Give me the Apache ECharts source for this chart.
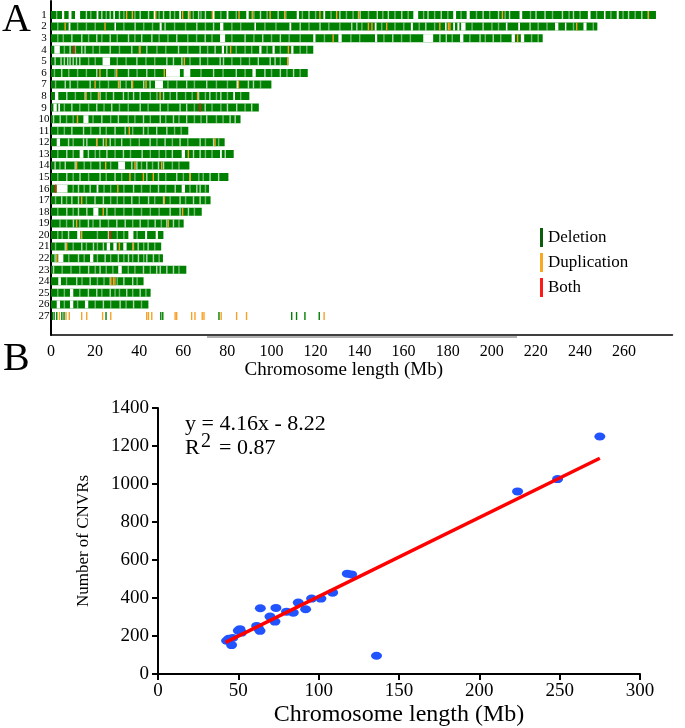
<!DOCTYPE html>
<html><head><meta charset="utf-8">
<script src="https://cdn.jsdelivr.net/npm/echarts@6/dist/echarts.min.js"></script>
<style>html,body{margin:0;padding:0;background:#fff}#c{width:685px;height:728px}</style>
</head><body><div id="c"></div>
<script>
// ---------- Panel A data (Mb) ----------
const chrLabels = ['1','2','3','4','5','6','7','8','9','10','11','12','13','14','15','16','17','18','19','20','21','22','23','24','25','26','27'];
const chrLength = [274.5,247.9,223.1,119,107.7,116.5,100,90,94.3,86,62.3,78.8,82.9,62.8,80.5,71.7,72.4,68.4,60.2,51,50,50.8,61.4,42,45.2,44.2,0];
// gaps inside each chromosome bar: number = thin stripe, [start,end] = white gap
const chrGaps = [
 [[5,6],[8,9.3],[10.9,13.2],[20.7,21.5],16,23,26.8,[28.3,29],31,40.4,44.2,[46.6,47.2],51,54,[58.2,59],62.3,66.9,70,[73.4,74.2],[79.7,80.5],[88.6,89.7],95,103,[111.5,112.5],117,[123.6,124.4],131,140.2,148,153,159.1,[164.4,166.6],171,177,[182.5,183.8],[188.6,190],196,203,208,[212.6,213.8],220,224.1,232,237,[243.6,244.8],[250.9,251.6],[256.7,257.6],262,268],
 [[8,8.8],[28.8,29.5],38.1,[49.3,50.2],51.7,66.1,73.7,[76.7,78.2],[92.3,93],[108.2,109],113,122,136.4,138.7,[146.9,147.7],[163.3,164.2],170,[178.8,179.5],[182.5,183.3],[184.4,185.3],[186.1,188.1],196,[206.4,207.1],[212,212.8],217.3,[228.7,230.2],[233.2,233.8],[241.6,243]],
 [9.4,13.9,20.7,26.8,35.1,41.1,45.7,57,69.9,[76.7,79],88,96,104,[119,120],[130.4,131.9],[147,148],155,[168.9,173.4],176.4,179.3,[185.6,187.1],194.6,200.6,[209,210.5],[213.2,214.7]],
 [[1.5,4],8.6,13.9,15.4,26.8,36.6,43.4,57.8,67.6,74.4,[77.5,78.5],79.7,[94.5,95.5],[100.5,101.5],[109,110]],
 [1.8,4.5,6,7.5,8.6,10,11.5,13,[23.4,26.8],38.9,52.5,55.5,59.3,67.6,76.7,78.2,94,99.4,101.6],
 [4.8,20.7,25.3,35.1,43.4,[52.2,58.5],[60.2,63.2],73.7,84,[91.4,92.9],97,104,110],
 [6.4,8.6,17.7,31.3,36.6,42,44.9,[47.2,50.8],61.5,70.6,[84.2,85],89.5,91.8],
 [[1.8,3.3],7.1,15.4,22.2,28.3,32.8,37.4,40.4,51,57,66.9,72,77,[82.7,83.5]],
 [[1.1,2.6],[3.3,4.1],9.4,20.7,27.5,40.4,49.5,58.5,61.5,69.9,80,84.2,91],
 [1.1,4.1,[14.7,17],23,30.5,41.9,49.5,55.5,61.5,70.6,81.2,83.5],
 [9.4,14.7,22.2,29,33.6,41.9,47.9,52.5],
 [[2.6,4.1],7.9,14.7,16.2,20.7,23.7,26.8,32,44.9,51.7,58.5,67.6,73.7],
 [7.1,[13,14.7],16.9,25.3,32.8,41.3,55,[59.3,60.8],64.6,67.6,[76.7,77.5],79],
 [1.8,6.4,10.9,22.2,[30.5,33.6],36.6,38.9,43.4,48.7,51],
 [7.1,13.1,22.2,29,43.4,48.7,57,63,72.1,76],
 [[2.6,7.5],12.4,17.7,[20.7,21.5],37.4,48.7,56.3,[59.3,60.8],66.1,67.6],
 [4.8,9.4,12.4,19.9,23.7,36.6,44.2,51,58.5,64.6,67.6],
 [7.1,12.4,16.2,[19.2,21.5],25.3,54,58.5,62.3],
 [10.1,16.9,22.2,29.8,33.6,40.4,47.2,52.5,55.5],
 [7.9,[11.9,13.3],26,[35.1,37.4],[42.7,43.6],[47.5,48.5]],
 [6.4,13.9,19.2,23.7,[25.3,26.8],[28.3,29.8],[32.8,34.3],39.5,44],
 [1.8,[3.3,5.6],12.4,[17.7,19.2],24.5,30.5,35.1,39.6,43.4,46.4],
 [1.1,17,22.2,[30.5,32.1],41.9,47.9,49.5,52.5,55.5],
 [[3.3,4.5],11.6,17.7,26.8,33,37],
 [[8.6,10.1],16.9,20.7,26.8,34.3,40.4],
 [[2.6,4.1],[8.6,10.1],[15.4,16.9],23.7,31.3,37.4],
 []
];
// faint (light green) stripes inside each chromosome bar
const chrStripes = [
 [2.5,18,25,33,38,49,56,64.5,68,77,84,92,98,106.5,114,120,127,134,137,144,150.5,156,162,169,174,180,186,193,199,206,217.5,227.5,235,240,247.5,254,259.5,265,271],
 [3,12,16,20,33,42,46,56,61,70,82,86,97,102,117,126,131,141,150,156,160,167,174,191,200,203,221,225,237,246],
 [3,5.5,17,23,30,38,49,53,62,66,73,82,92,100,108,113,124,136,140,151,159,163,182,190,197,204,218,221],
 [6,11,19,22,31,40,48,52,62,71,84,88,91,98,104,113,116],
 [17,20,30,34,43,47,63,71,82,86,90,104],
 [1.5,8,12,16,29,39,47,68,78,88,100,107,113],
 [2,12,22,26,34,53,57,65,75,80,95],
 [11,18,25,35,45,48,54,61,64,70,75,80,86],
 [6,13,17,24,31,35,44,53,65,73,77,88],
 [7,10,19,27,35,38,45,52,58,65,68,75,78],
 [3,6,18,25,37,44,56,59],
 [10,29,36,40,48,55,62,70,76],
 [3,10,20,22,29,36,45,49,52,70,73],
 [4,15,18,27,41,46,55,58],
 [3,10,17,25,32,38,52,60,67,69],
 [10,15,24,27,33,41,45,52,63,70],
 [2,7,16,27,30,33,40,47,54,61,70],
 [3,10,29,33,37,41,45,49,65],
 [4,7,13,19,26,37,44,50,58],
 [3,5,21,30,33,39],
 [2,10,16,21,37,42,47],
 [8,15,21,27,33,37,42,49],
 [5,9,13,20,25,28,35,38,45,58],
 [7,14,21,24,30,39],
 [3,6,13,23,29,31,37,43],
 [6,12,20,27,34,41],
 []
];
// duplication (orange) and both (red) CNVR positions per chromosome
const dupMarks = [
 [34.3,36.9,47.5,59.7,63,73.2,85.3,91.3,99.4,106,122,129.6,139.5,204.8,271],
 [6.4,24.5,144,145.6,152.3,176.4,180.3,181,238.5],
 [128,211.7],
 [40.4,81.5,107.7],
 [60.5,107.4],
 [22.2,29.8,51.4],
 [20,30.6,37,43.1,85],
 [15.9,21.5,49.5,66.5],
 [],
 [12],
 [35.5],
 [20.7,25,74.4],
 [62.3],
 [11.6,24.8,38.1,50.2],
 [35.8,41.9,46.4,63.1],
 [30.3],
 [13.9,51.4],
 [23.7,59.7],
 [11.6,53.2],
 [13.9],
 [7.1,31,37.4],
 [2.6],
 [],
 [27.2,28.3,29],
 [],
 [],
 [3.8,6.8,8.3,13.9,16.2,23.4,27.1,43.4,44.2,45.7,56.3,57,63.8,65.3,68.6,69.4,77.2,84.2,88.7,123.9]
];
const bothMarks = [[],[],[],[10.4],[],[],[],[],[67.6],[],[],[],[],[],[],[2.1],[],[],[],[26.8],[],[],[],[],[],[],[]];
// deletion CNVRs drawn individually on chromosome 27
const chr27Deletions = [0.6,1.4,2.6,4.9,5.9,24.95,49.8,50.7,76.2,109.2,111.4,115.2,121.7];
const xTicksA = [0,20,40,60,80,100,120,140,160,180,200,220,240,260];

// ---------- Panel B data ----------
const chrLenB = [42.7,45.8,46.5,44,51,52,50,61.4,63.5,62.5,63.7,69.7,72.8,73.4,80,84.2,87.3,91.9,95.6,101.4,108.7,117.8,120.5,136,223.8,248.7,275];
const cnvrCount = [175,152,190,185,236,218,228,253,227,240,346,302,276,348,328,323,376,341,397,397,428,528,524,96,961,1026,1250];
const regSlope = 4.16, regIntercept = -8.22, regXRange = [42, 275];

// ---------- build ----------
const SERIF = 'Liberation Serif';
const delData = [], gapData = [], dupData = [], bothData = [], labelData = [];
chrLabels.forEach((lab, i) => {
  const row = i + 1;
  labelData.push([row, lab]);
  if (chrLength[i] > 0) delData.push([row, 0, chrLength[i]]);
  chrGaps[i].forEach(g => {
    if (typeof g === 'number') gapData.push([row, g - 0.25, g + 0.35, 0.7]);
    else gapData.push([row, g[0], g[1], 1]);
  });
  chrStripes[i].forEach(g => gapData.push([row, g - 0.25, g + 0.35, 0.45]));
  dupMarks[i].forEach(p => dupData.push([row, p - 0.3, p + 0.3]));
  bothMarks[i].forEach(p => bothData.push([row, p - 0.3, p + 0.3]));
});
chr27Deletions.forEach(p => delData.push([27, p - 0.3, p + 0.3]));

const BAR_H = 8;
function rectRender(color) {
  return function (params, api) {
    const row = api.value(0);
    const p0 = api.coord([api.value(1), row]);
    const p1 = api.coord([api.value(2), row]);
    const op = api.value(3);
    return {
      type: 'rect',
      shape: { x: p0[0], y: p0[1] - BAR_H / 2, width: Math.max(p1[0] - p0[0], 1.4), height: BAR_H },
      style: { fill: color, opacity: isNaN(op) ? 1 : op }
    };
  };
}

const GREEN = '#008000', ORANGE = '#f7a227', RED = '#ff1010';

const option = {
  animation: false,
  backgroundColor: '#fff',
  legend: {
    left: 540, top: 228, orient: 'vertical', selectedMode: false,
    itemWidth: 3, itemHeight: 19, itemGap: 6, padding: 0,
    textStyle: { fontFamily: SERIF, fontSize: 17, color: '#000' },
    data: [
      { name: 'Deletion', icon: 'rect', itemStyle: { color: '#0b5d0b' } },
      { name: 'Duplication', icon: 'rect', itemStyle: { color: '#f9a825' } },
      { name: 'Both', icon: 'rect', itemStyle: { color: '#ff1a1a' } }
    ]
  },
  grid: [
    { left: 51, top: 1, width: 621.5, height: 334 },
    { left: 158, top: 408, width: 482, height: 267 }
  ],
  xAxis: [
    {
      gridIndex: 0, type: 'value', min: 0, max: 282, interval: 20, position: 'bottom',
      axisLine: { show: true, onZero: false, lineStyle: { color: '#000', width: 1.5 } },
      axisTick: { show: false }, splitLine: { show: false },
      axisLabel: { margin: 9, fontFamily: SERIF, fontSize: 16, color: '#000',
        formatter: v => (xTicksA.indexOf(v) >= 0 ? String(v) : '') },
      name: 'Chromosome length (Mb)', nameLocation: 'middle', nameGap: 25,
      nameTextStyle: { fontFamily: SERIF, fontSize: 19, color: '#000', padding: [0, 36, 0, 0] }
    },
    {
      gridIndex: 1, type: 'value', min: 0, max: 300, interval: 50,
      axisLine: { show: true, onZero: false, lineStyle: { color: '#000', width: 2 } },
      axisTick: { show: true, length: 6, lineStyle: { color: '#000', width: 2 } },
      splitLine: { show: false },
      axisLabel: { margin: 8, fontFamily: SERIF, fontSize: 19, color: '#000', formatter: v => String(v) },
      name: 'Chromosome length (Mb)', nameLocation: 'middle', nameGap: 29,
      nameTextStyle: { fontFamily: SERIF, fontSize: 24, color: '#000' }
    }
  ],
  yAxis: [
    {
      gridIndex: 0, type: 'value', inverse: true, min: -0.209, max: 28.64,
      axisLine: { show: true, onZero: false, lineStyle: { color: '#000', width: 2 } },
      axisTick: { show: false }, axisLabel: { show: false }, splitLine: { show: false }
    },
    {
      gridIndex: 1, type: 'value', min: 0, max: 1400, interval: 200,
      axisLine: { show: true, onZero: false, lineStyle: { color: '#000', width: 2 } },
      axisTick: { show: true, length: 6, lineStyle: { color: '#000', width: 2 } },
      splitLine: { show: false },
      axisLabel: { margin: 9, fontFamily: SERIF, fontSize: 19, color: '#000', formatter: v => String(v) },
      name: 'Number of CNVRs', nameLocation: 'middle', nameGap: 66, nameRotate: 90,
      nameTextStyle: { fontFamily: SERIF, fontSize: 17, color: '#000' }
    }
  ],
  graphic: [
    { type: 'line', shape: { x1: 207, y1: 337, x2: 517, y2: 337 }, style: { stroke: '#b0b0b0', lineWidth: 2 } },
    { type: 'text', left: 2, top: 0, style: { text: 'A', fontFamily: SERIF, fontSize: 40, fill: '#000' } },
    { type: 'text', left: 3, top: 339, style: { text: 'B', fontFamily: SERIF, fontSize: 40, fill: '#000' } },
    { type: 'text', x: 185, y: 424, style: { text: 'y = 4.16x - 8.22', fontFamily: SERIF, fontSize: 22, fill: '#000', textVerticalAlign: 'middle' } },
    { type: 'text', x: 185, y: 448, style: { text: 'R', fontFamily: SERIF, fontSize: 22, fill: '#000', textVerticalAlign: 'middle' } },
    { type: 'text', x: 201, y: 442, style: { text: '2', fontFamily: SERIF, fontSize: 20, fill: '#000', textVerticalAlign: 'middle' } },
    { type: 'text', x: 219, y: 448, style: { text: '= 0.87', fontFamily: SERIF, fontSize: 22, fill: '#000', textVerticalAlign: 'middle' } }
  ],
  series: [
    { name: 'Deletion', type: 'custom', xAxisIndex: 0, yAxisIndex: 0, renderItem: rectRender(GREEN),
      itemStyle: { color: GREEN }, encode: { x: [1, 2], y: 0 }, data: delData, silent: true },
    { name: 'gap', type: 'custom', xAxisIndex: 0, yAxisIndex: 0, renderItem: rectRender('#ffffff'),
      encode: { x: [1, 2], y: 0 }, data: gapData, silent: true },
    { name: 'Duplication', type: 'custom', xAxisIndex: 0, yAxisIndex: 0, renderItem: rectRender(ORANGE),
      itemStyle: { color: ORANGE }, encode: { x: [1, 2], y: 0 }, data: dupData, silent: true },
    { name: 'Both', type: 'custom', xAxisIndex: 0, yAxisIndex: 0, renderItem: rectRender(RED),
      itemStyle: { color: RED }, encode: { x: [1, 2], y: 0 }, data: bothData, silent: true },
    { name: 'chrLabels', type: 'custom', xAxisIndex: 0, yAxisIndex: 0, silent: true,
      encode: { y: 0 }, data: labelData,
      renderItem: function (params, api) {
        const p = api.coord([0, api.value(0)]);
        return { type: 'text', x: p[0] - 7, y: p[1],
          style: { text: labelData[params.dataIndex][1], fontFamily: SERIF, fontSize: 11, fill: '#000',
            textAlign: 'center', textVerticalAlign: 'middle' } };
      } },
    { name: 'CNVRs', type: 'scatter', xAxisIndex: 1, yAxisIndex: 1, symbol: 'circle', symbolSize: [11, 8],
      itemStyle: { color: '#2154ff', opacity: 1 }, z: 3,
      data: chrLenB.map((x, i) => [x, cnvrCount[i]]) },
    { name: 'fit', type: 'line', xAxisIndex: 1, yAxisIndex: 1, symbol: 'none', z: 4,
      lineStyle: { color: '#ff0000', width: 3.5 },
      data: regXRange.map(x => [x, regSlope * x + regIntercept]) }
  ]
};
const chart = echarts.init(document.getElementById('c'), null, { renderer: 'canvas' });
chart.setOption(option);
</script></body></html>
